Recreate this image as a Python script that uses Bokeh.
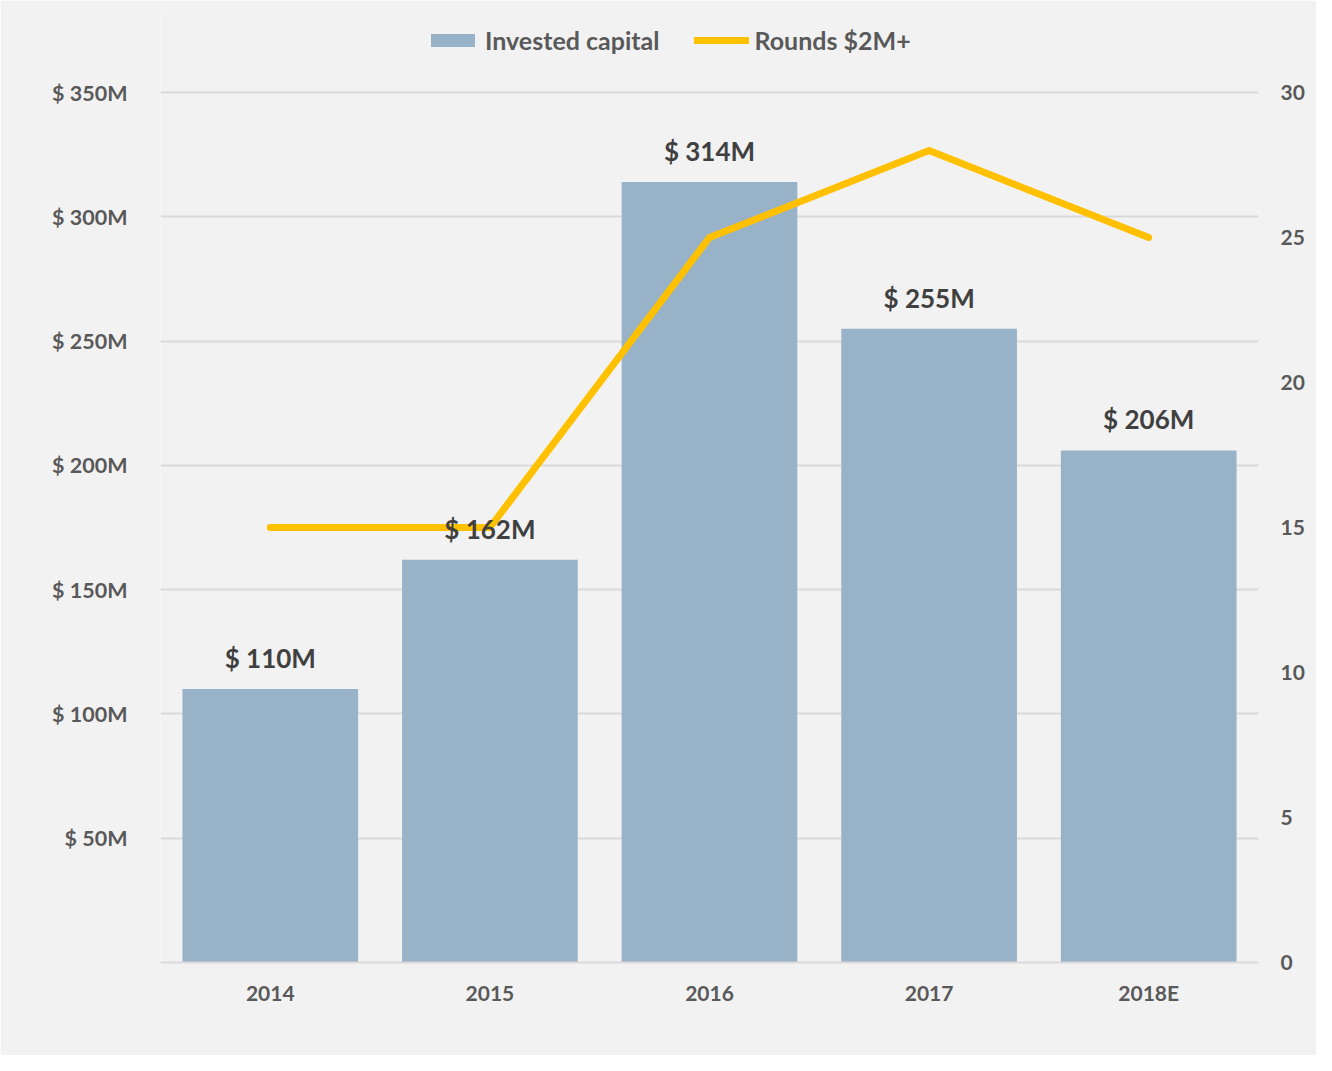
from bokeh.plotting import figure
from bokeh.models import (ColumnDataSource, FactorRange, Range1d, LinearAxis, FixedTicker,
                          Legend, LegendItem)
from bokeh.core.properties import value
from bokeh.embed import file_html
from bokeh.resources import INLINE

years = ["2014", "2015", "2016", "2017", "2018E"]
invested = [110, 162, 314, 255, 206]
rounds = [15, 15, 25, 28, 25]
left_ticks = [50, 100, 150, 200, 250, 300, 350]
right_ticks = [0, 5, 10, 15, 20, 25, 30]

FONT = "Lato"
BG = "#f2f2f2"
BAR = "#98b2c8"
LINE = "#ffc000"
TXT = "#595959"

src = ColumnDataSource(dict(x=years, inv=invested, rounds=rounds,
                            lab=["$ %dM" % v for v in invested]))

# frame spans y 10..962 (px); 350M sits at y=92 -> extend range so legend fits in frame
FRAME_TOP, ZERO_Y, TOP350_Y = 10, 962, 92
scale = (ZERO_Y - FRAME_TOP) / (ZERO_Y - TOP350_Y)
p = figure(width=1316, height=1055, x_range=FactorRange(*years, range_padding=0),
           y_range=Range1d(0, 350 * scale), output_backend="svg", toolbar_location=None,
           min_border_left=160, min_border_right=58, min_border_top=FRAME_TOP,
           min_border_bottom=1055 - ZERO_Y)
p.background_fill_color = BG
p.border_fill_color = BG
p.outline_line_color = None
p.extra_y_ranges = {"r": Range1d(0, 30 * scale)}

bars = p.vbar(x="x", top="inv", width=0.8, source=src, fill_color=BAR, line_color=None)
ln = p.line(x="x", y="rounds", source=src, y_range_name="r", line_color=LINE,
            line_width=7, line_cap="round", line_join="round")

p.text(x="x", y="inv", text="lab", source=src, text_align="center", text_baseline="bottom",
       y_offset=-15, text_font=value(FONT), text_font_style="bold", text_font_size="26px",
       text_color="#404040")

# axes
p.xaxis.axis_line_color = "#d9d9d9"
p.xaxis.axis_line_width = 2
p.xaxis.major_tick_line_color = None
p.xaxis.minor_tick_line_color = None
p.xaxis.major_label_standoff = 11
p.xaxis.major_label_text_font = FONT
p.xaxis.major_label_text_font_style = "bold"
p.xaxis.major_label_text_font_size = "21px"
p.xaxis.major_label_text_color = TXT

p.yaxis.ticker = FixedTicker(ticks=left_ticks)
p.yaxis.major_label_overrides = {t: "$ %dM" % t for t in left_ticks}
p.yaxis.axis_line_color = None
p.yaxis.major_tick_line_color = None
p.yaxis.minor_tick_line_color = None
p.yaxis.major_label_standoff = 27
p.yaxis.major_label_text_font = FONT
p.yaxis.major_label_text_font_style = "bold"
p.yaxis.major_label_text_font_size = "21.5px"
p.yaxis.major_label_text_color = TXT

ra = LinearAxis(y_range_name="r", ticker=FixedTicker(ticks=right_ticks))
ra.axis_line_color = None
ra.major_tick_line_color = None
ra.minor_tick_line_color = None
ra.major_label_standoff = 16
ra.major_label_text_font = FONT
ra.major_label_text_font_style = "bold"
ra.major_label_text_font_size = "21px"
ra.major_label_text_color = TXT
p.add_layout(ra, "right")

p.xgrid.grid_line_color = None
p.ygrid.ticker = FixedTicker(ticks=left_ticks)
p.ygrid.grid_line_color = "#d9d9d9"
p.ygrid.grid_line_width = 2

legend = Legend(items=[LegendItem(label="Invested capital", renderers=[bars]),
                       LegendItem(label="Rounds $2M+", renderers=[ln])],
                orientation="horizontal", location=(265, 907),
                glyph_width=55, glyph_height=16, label_standoff=5, spacing=35,
                padding=0, margin=0, border_line_color=None, background_fill_alpha=0,
                label_text_font=FONT, label_text_font_style="bold",
                label_text_font_size="25px", label_text_color=TXT)
p.add_layout(legend, "center")

open("out.html", "w").write(file_html(p, INLINE))
